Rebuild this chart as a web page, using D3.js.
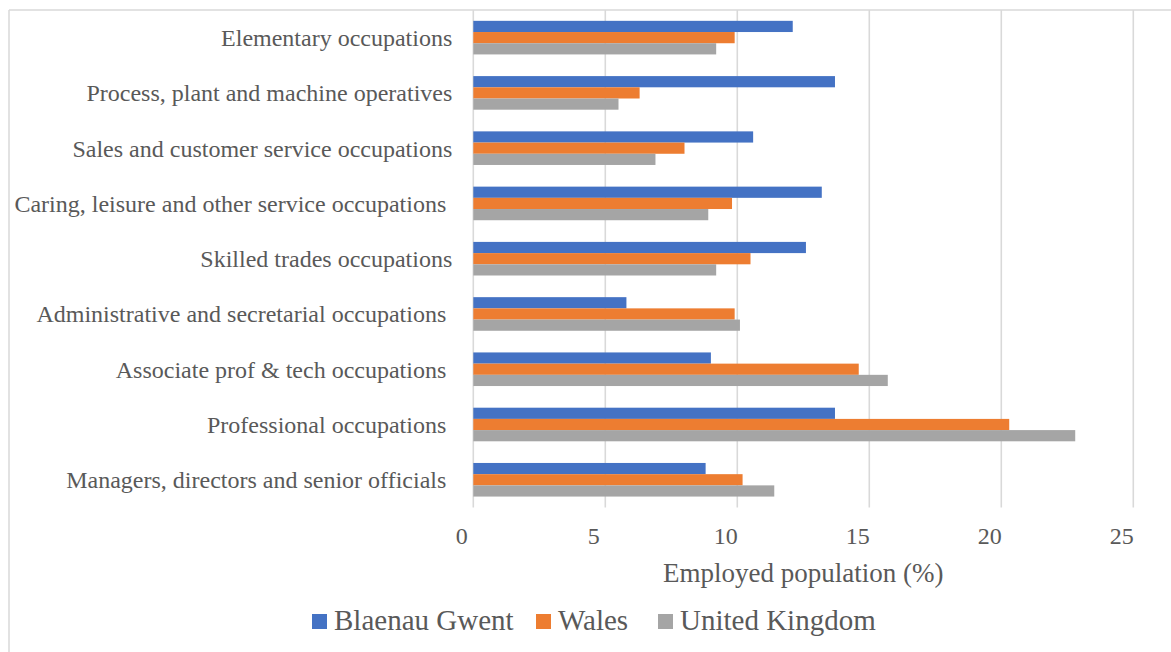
<!DOCTYPE html>
<html>
<head>
<meta charset="utf-8">
<script src="https://cdn.jsdelivr.net/npm/d3@7/dist/d3.min.js"></script>
<style>
  html, body { margin: 0; padding: 0; background: #fff; }
  svg { display: block; font-family: "Liberation Serif", "Times New Roman", serif; }
  .cat { white-space: pre; }
</style>
</head>
<body>
<svg id="chart" width="1171" height="652"></svg>
<script>
// Occupation categories, top to bottom (trailing spaces kept as entered)
const categories = [
  "Elementary occupations",
  "Process, plant and machine operatives",
  "Sales and customer service occupations",
  "Caring, leisure and other service occupations ",
  "Skilled trades occupations",
  "Administrative and secretarial occupations ",
  "Associate prof & tech occupations ",
  "Professional occupations ",
  "Managers, directors and senior officials "
];

const seriesNames = ["Blaenau Gwent", "Wales", "United Kingdom"];
const seriesColors = ["#4472C4", "#ED7D31", "#A5A5A5"];

// Share of employed population (%) per category
const blaenauGwent  = [12.1, 13.7, 10.6, 13.2, 12.6, 5.8, 9.0, 13.7, 8.8];
const wales         = [9.9, 6.3, 8.0, 9.8, 10.5, 9.9, 14.6, 20.3, 10.2];
const unitedKingdom = [9.2, 5.5, 6.9, 8.9, 9.2, 10.1, 15.7, 22.8, 11.4];

const xTicks = [0, 5, 10, 15, 20, 25];
const xTitle = "Employed population (%)";

const seriesValues = [blaenauGwent, wales, unitedKingdom];
const rows = categories.map((c, i) => ({
  category: c,
  values: seriesNames.map((s, j) => ({ series: s, value: seriesValues[j][i], color: seriesColors[j] }))
}));

const svg = d3.select("#chart");
const textColor = "#595959";
const gridColor = "#D9D9D9";

const plot = { left: 473.3, right: 1133.3, top: 10, bottom: 507.4 };

const x = d3.scaleLinear().domain([0, 25]).range([plot.left, plot.right]);
const y = d3.scaleBand().domain(categories).range([plot.top, plot.bottom])
  .paddingInner(0.392).paddingOuter(0.196);
const ySub = d3.scaleBand().domain(seriesNames).range([0, y.bandwidth()]);

// Outer chart frame (top and left edges visible)
svg.append("line").attr("x1", 9).attr("x2", 1171).attr("y1", 10).attr("y2", 10)
  .attr("stroke", gridColor).attr("stroke-width", 1.5);
svg.append("line").attr("x1", 9).attr("x2", 9).attr("y1", 10).attr("y2", 652)
  .attr("stroke", gridColor).attr("stroke-width", 1.5);

// Vertical gridlines
svg.append("g").selectAll("line").data(xTicks).join("line")
  .attr("x1", d => x(d)).attr("x2", d => x(d))
  .attr("y1", plot.top).attr("y2", plot.bottom)
  .attr("stroke", gridColor).attr("stroke-width", 1.6);

// Bars
const groups = svg.append("g").selectAll("g").data(rows).join("g")
  .attr("transform", d => `translate(0,${y(d.category)})`);
groups.selectAll("rect").data(d => d.values).join("rect")
  .attr("x", x(0))
  .attr("y", d => ySub(d.series))
  .attr("width", d => x(d.value) - x(0))
  .attr("height", ySub.bandwidth())
  .attr("fill", d => d.color);

// Category labels
svg.append("g").selectAll("text").data(categories).join("text")
  .attr("class", "cat")
  .attr("x", 452.3)
  .attr("y", d => y(d) + y.bandwidth() / 2)
  .attr("dy", "0.35em")
  .attr("text-anchor", "end")
  .attr("font-size", 24)
  .attr("fill", textColor)
  .text(d => d);

// X axis tick labels
const xAxis = d3.axisBottom(x).tickValues(xTicks).tickSize(0).tickPadding(0);
const gx = svg.append("g").attr("transform", `translate(0,${544})`).call(xAxis);
gx.select(".domain").remove();
gx.selectAll("text")
  .attr("y", 0).attr("dy", 0)
  .attr("dx", -12)
  .attr("font-size", 24)
  .attr("font-family", "Liberation Serif, Times New Roman, serif")
  .attr("fill", textColor);

// X axis title
svg.append("text")
  .attr("x", 803.3).attr("y", 581.7)
  .attr("text-anchor", "middle")
  .attr("font-size", 27)
  .attr("fill", textColor)
  .text(xTitle);

// Legend
const legendX = [312, 536, 658];
const legend = svg.append("g").selectAll("g").data(seriesNames).join("g")
  .attr("transform", (d, i) => `translate(${legendX[i]},0)`);
legend.append("rect")
  .attr("x", 0).attr("y", 614).attr("width", 15).attr("height", 15)
  .attr("fill", (d, i) => seriesColors[i]);
legend.append("text")
  .attr("x", 22).attr("y", 630)
  .attr("font-size", 29)
  .attr("fill", textColor)
  .text(d => d);
</script>
</body>
</html>
